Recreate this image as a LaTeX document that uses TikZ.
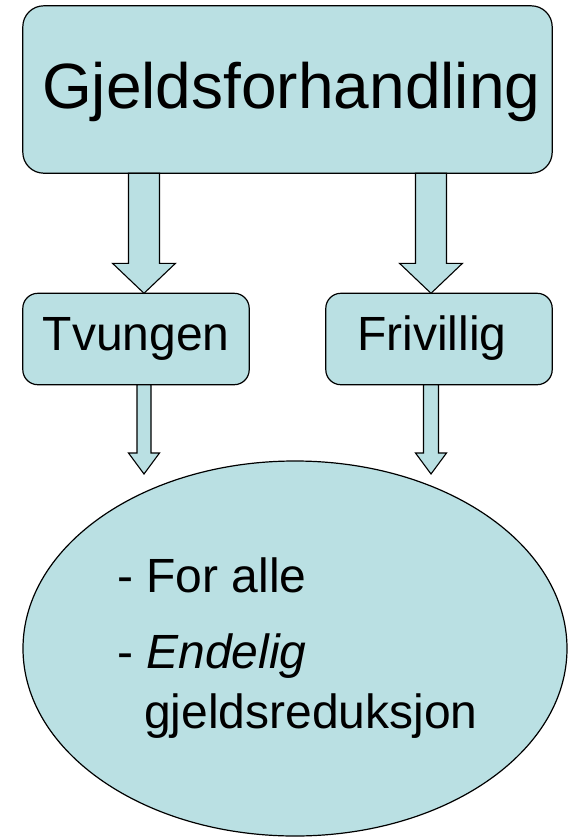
\documentclass[tikz,border=0pt]{standalone}
\usepackage{fontspec}
\setmainfont{Liberation Sans}
\usetikzlibrary{calc,shapes.geometric}
\definecolor{boxfill}{RGB}{186,224,227}
\tikzset{
  box/.style={draw=black, fill=boxfill, line width=1.2pt, rounded corners=#1},
  barrow/.style={draw=black, fill=boxfill, line width=1.1pt, line join=miter},
  bigtxt/.style={anchor=base west, inner sep=0pt, font=\fontsize{64}{64}\selectfont},
  txt/.style={anchor=base west, inner sep=0pt, font=\fontsize{48}{48}\selectfont}
}
% #1 x centre, #2 start point, #3 tip point, #4 half shaft, #5 half head, #6 head length
\newcommand{\blockarrow}[6]{%
  \draw[barrow] ($(#1-#4,0 |- #2)$) -- ($(#1-#4,0 |- #3)+(0,-#6)$)
    -- ($(#1-#5,0 |- #3)+(0,-#6)$) -- ($(#1,0 |- #3)$)
    -- ($(#1+#5,0 |- #3)+(0,-#6)$) -- ($(#1+#4,0 |- #3)+(0,-#6)$)
    -- ($(#1+#4,0 |- #2)$) -- cycle;}
\begin{document}
\begin{tikzpicture}[x=1pt,y=-1pt]
\useasboundingbox (0,0) rectangle (578,838);
% boxes
\node[inner sep=0pt, minimum width=529pt, minimum height=167pt] (top) at (287.5,89.5) {};
\node[inner sep=0pt, minimum width=226pt, minimum height=91pt] (tv) at (136,339) {};
\node[inner sep=0pt, minimum width=226pt, minimum height=91pt] (fr) at (439,339) {};
\draw[box=21pt] (top.south west) rectangle (top.north east);
\draw[box=15pt] (tv.south west) rectangle (tv.north east);
\draw[box=15pt] (fr.south west) rectangle (fr.north east);
% ellipse
\node[draw=black, fill=boxfill, line width=1.2pt, ellipse, minimum width=544pt, minimum height=375pt, inner sep=0pt] (el) at (295,648.5) {};
% texts
\node[bigtxt] (ttop) at (42,108) {Gjeldsforhandling};
\node[txt] (ttv) at (42.5,350) {Tvungen};
\node[txt] (tfr) at (357,350) {Frivillig};
\node[txt] (l1) at (117,592) {- For alle};
\node[txt] (l2) at (117,668) {- \textit{Endelig}};
\node[txt] (l3) at (144,728) {gjeldsreduksjon};
% tips of the lower arrows
\coordinate (tipL) at (144,474);
\coordinate (tipR) at (431,474);
% arrows
\blockarrow{144}{top.south}{tv.north}{15.5}{31.5}{30}
\blockarrow{431}{top.south}{fr.north}{15.5}{31.5}{30}
\blockarrow{144}{tv.south}{tipL}{7}{15.5}{21}
\blockarrow{431}{fr.south}{tipR}{7.5}{15.5}{21}
\end{tikzpicture}
\end{document}
